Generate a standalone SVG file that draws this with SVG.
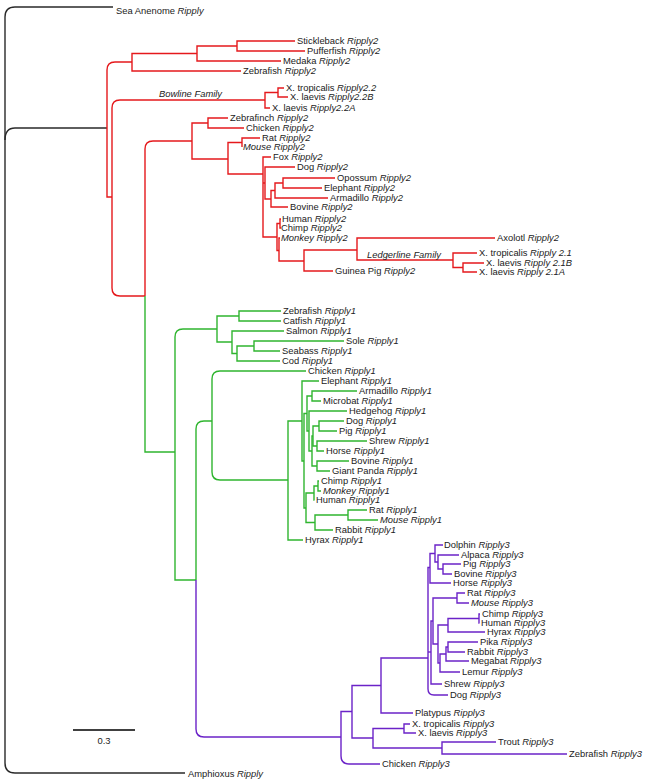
<svg xmlns="http://www.w3.org/2000/svg" width="648" height="784" viewBox="0 0 648 784">
<style>
path{fill:none;stroke-width:1.4;stroke-linejoin:miter}
.k{stroke:#2a2a2a}
.r{stroke:#e5191c}
.g{stroke:#2fb52f}
.p{stroke:#6b23c8}
text{font-family:"Liberation Sans",Arial,sans-serif;font-size:9.4px;fill:#222}
.i{font-style:italic}
</style>
<rect width="648" height="784" fill="#fff"/>
<g id="connectors">
<path class="k" d="M113,7 H15 Q5,7 5,17 V763 Q5,773 15,773 H185"/>
<path class="k" d="M5,140 Q5,128 15,128 H107"/>
<path class="r" d="M132,62 H115 Q107,62 107,70 V197 H112"/>
<path class="r" d="M265,100 H120 Q112,100 112,108 V288 Q112,296 120,296 H145"/>
<path class="r" d="M197,53.5 H132 V71 H241"/>
<path class="r" d="M237,46 H197 V61 H281"/>
<path class="r" d="M295,41 H237 V51 H305"/>
<path class="r" d="M278,92.5 H265 V108 H270"/>
<path class="r" d="M284,88 H278 V97 H288"/>
<path class="r" d="M145,296 V149 Q145,141 153,141 H192"/>
<path class="g" d="M145,296 V452 H175"/>
<path class="r" d="M208,123 H192 V159 H228"/>
<path class="r" d="M228,118 H208 V128 H244"/>
<path class="r" d="M242,142.5 H228 V174 H263"/>
<path class="r" d="M260,138 H242 V147"/>
<path class="r" d="M271,157 H263 V237 H277"/>
<path class="r" d="M263,183 H265"/>
<path class="r" d="M295,167 H265 V199 H271"/>
<path class="r" d="M275,190.5 H271 V207 H288"/>
<path class="r" d="M283,183 H275 V198 H328"/>
<path class="r" d="M335,178 H283 V188 H322"/>
<path class="r" d="M280,223.5 H277 V250.5 H279"/>
<path class="r" d="M280,238 H279 V261 H304"/>
<path class="r" d="M281,219 H280 V228 H281"/>
<path class="r" d="M357,250 H304 V271 H333"/>
<path class="r" d="M495,238 H357 V260 H453"/>
<path class="r" d="M477,253 H453 V267.5 H463"/>
<path class="r" d="M484,263 H463 V272 H477"/>
<path class="g" d="M217,329 H183 Q175,329 175,337 V580 H196"/>
<path class="g" d="M239,316 H217 V342 H232"/>
<path class="g" d="M281,311 H239 V321 H281"/>
<path class="g" d="M284,331 H232 V353.5 H237"/>
<path class="g" d="M254,346 H237 V361 H280"/>
<path class="g" d="M344,341 H254 V351 H280"/>
<path class="g" d="M196,580 V429 Q196,421 204,421 H212"/>
<path class="p" d="M196,580 V729 Q196,737 204,737 H341"/>
<path class="g" d="M306,371 H220 Q212,371 212,379 V472 Q212,480 220,480 H288"/>
<path class="g" d="M302,421 H288 V540 H303"/>
<path class="g" d="M319,381 H302 V461 H304"/>
<path class="g" d="M307,413.5 H304 V508 H306"/>
<path class="g" d="M312,396 H307 V431 H309"/>
<path class="g" d="M357,391 H312 V401 H321"/>
<path class="g" d="M347,411 H309 V451 H312"/>
<path class="g" d="M313,436 H312 V466 H317"/>
<path class="g" d="M319,426 H313 V446 H317"/>
<path class="g" d="M344,421 H319 V431 H337"/>
<path class="g" d="M367,441 H317 V451 H324"/>
<path class="g" d="M349,461 H317 V471 H330"/>
<path class="g" d="M314,493 H306 V522.5 H315"/>
<path class="g" d="M318,486 H314 V500 H314.5"/>
<path class="g" d="M319,481 H318 V491 H321"/>
<path class="g" d="M348,515 H315 V530 H333"/>
<path class="g" d="M367,510 H348 V520 H378"/>
<path class="p" d="M352,711.5 H341 V756 Q341,764 349,764 H380"/>
<path class="p" d="M381,685.5 H352 V738 H373"/>
<path class="p" d="M428,658 H381 V713 H413"/>
<path class="p" d="M404,728.5 H373 V748 H442"/>
<path class="p" d="M410,724 H404 V733 H416"/>
<path class="p" d="M496,742 H442 V754 H567"/>
<path class="p" d="M430,567.5 H428 V689 Q428,695 434,695 H448"/>
<path class="p" d="M435,553.5 H430 V583 H451"/>
<path class="p" d="M428,652 H431"/>
<path class="p" d="M433,621 H431 V684 H442"/>
<path class="p" d="M457,598 H433 V644 H438"/>
<path class="p" d="M448,625 H438 V663 H440"/>
<path class="p" d="M443,545 H435 V562 H438"/>
<path class="p" d="M459,555 H438 V569 H443"/>
<path class="p" d="M461,564 H443 V574 H452"/>
<path class="p" d="M465,593 H457 V603 H469"/>
<path class="p" d="M479,618.5 H448 V632 H485"/>
<path class="p" d="M480,614 H479 V623 H479.5"/>
<path class="p" d="M446,654 H440 V672 H460"/>
<path class="p" d="M448,647 H446 V661 H469"/>
<path class="p" d="M478,642 H448 V652 H465"/>
<path d="M73,730 H135" stroke="#000" stroke-width="2.5"/>
</g>
<g id="labels">
<g id="sea-anenome"><text x="116" y="13.5">Sea Anenome <tspan class="i">Ripply</tspan></text></g>
<g id="amphioxus"><text x="188" y="776.5">Amphioxus <tspan class="i">Ripply</tspan></text></g>
<g id="scale"><text x="104" y="743.5" text-anchor="middle">0.3</text></g>
<g id="bowline"><text x="159" y="96.5" class="i">Bowline Family</text></g>
<g id="ledgerline"><text x="367" y="257.5" class="i">Ledgerline Family</text></g>

<g id="stickleback-r2"><text x="297" y="44.3">Stickleback <tspan class="i">Ripply2</tspan></text></g>
<g id="pufferfish-r2"><text x="307" y="54.3">Pufferfish <tspan class="i">Ripply2</tspan></text></g>
<g id="medaka-r2"><text x="283" y="64.3">Medaka <tspan class="i">Ripply2</tspan></text></g>
<g id="zebrafish-r2"><text x="243" y="74.3">Zebrafish <tspan class="i">Ripply2</tspan></text></g>
<g id="xtrop-r22"><text x="286" y="91.3">X. tropicalis <tspan class="i">Ripply2.2</tspan></text></g>
<g id="xlaev-r22b"><text x="290" y="100.3">X. laevis <tspan class="i">Ripply2.2B</tspan></text></g>
<g id="xlaev-r22a"><text x="272" y="111.3">X. laevis <tspan class="i">Ripply2.2A</tspan></text></g>
<g id="zebrafinch-r2"><text x="230" y="121.3">Zebrafinch <tspan class="i">Ripply2</tspan></text></g>
<g id="chicken-r2"><text x="246" y="131.3">Chicken <tspan class="i">Ripply2</tspan></text></g>
<g id="rat-r2"><text x="262" y="141.3">Rat <tspan class="i">Ripply2</tspan></text></g>
<g id="mouse-r2"><text x="243" y="150.3" class="i">Mouse Ripply2</text></g>
<g id="fox-r2"><text x="273" y="160.3">Fox <tspan class="i">Ripply2</tspan></text></g>
<g id="dog-r2"><text x="297" y="170.3">Dog <tspan class="i">Ripply2</tspan></text></g>
<g id="opossum-r2"><text x="337" y="181.3">Opossum <tspan class="i">Ripply2</tspan></text></g>
<g id="elephant-r2"><text x="324" y="191.3">Elephant <tspan class="i">Ripply2</tspan></text></g>
<g id="armadillo-r2"><text x="330" y="201.3">Armadillo <tspan class="i">Ripply2</tspan></text></g>
<g id="bovine-r2"><text x="290" y="210.3">Bovine <tspan class="i">Ripply2</tspan></text></g>
<g id="human-r2"><text x="282" y="222.3">Human <tspan class="i">Ripply2</tspan></text></g>
<g id="chimp-r2"><text x="281" y="231.3">Chimp <tspan class="i">Ripply2</tspan></text></g>
<g id="monkey-r2"><text x="281" y="241.3" class="i">Monkey Ripply2</text></g>
<g id="axolotl-r2"><text x="497" y="241.3">Axolotl <tspan class="i">Ripply2</tspan></text></g>
<g id="xtrop-r21"><text x="479" y="256.3">X. tropicalis <tspan class="i">Ripply 2.1</tspan></text></g>
<g id="xlaev-r21b"><text x="486" y="266.3">X. laevis <tspan class="i">Ripply 2.1B</tspan></text></g>
<g id="xlaev-r21a"><text x="479" y="275.3">X. laevis <tspan class="i">Ripply 2.1A</tspan></text></g>
<g id="guineapig-r2"><text x="335" y="274.3">Guinea Pig <tspan class="i">Ripply2</tspan></text></g>

<g id="zebrafish-r1"><text x="283" y="314.3">Zebrafish <tspan class="i">Ripply1</tspan></text></g>
<g id="catfish-r1"><text x="283" y="324.3">Catfish <tspan class="i">Ripply1</tspan></text></g>
<g id="salmon-r1"><text x="286" y="334.3">Salmon <tspan class="i">Ripply1</tspan></text></g>
<g id="sole-r1"><text x="346" y="344.3">Sole <tspan class="i">Ripply1</tspan></text></g>
<g id="seabass-r1"><text x="282" y="354.3">Seabass <tspan class="i">Ripply1</tspan></text></g>
<g id="cod-r1"><text x="282" y="364.3">Cod <tspan class="i">Ripply1</tspan></text></g>
<g id="chicken-r1"><text x="308" y="374.3">Chicken <tspan class="i">Ripply1</tspan></text></g>
<g id="elephant-r1"><text x="321" y="384.3">Elephant <tspan class="i">Ripply1</tspan></text></g>
<g id="armadillo-r1"><text x="359" y="394.3">Armadillo <tspan class="i">Ripply1</tspan></text></g>
<g id="microbat-r1"><text x="323" y="404.3">Microbat <tspan class="i">Ripply1</tspan></text></g>
<g id="hedgehog-r1"><text x="349" y="414.3">Hedgehog <tspan class="i">Ripply1</tspan></text></g>
<g id="dog-r1"><text x="346" y="424.3">Dog <tspan class="i">Ripply1</tspan></text></g>
<g id="pig-r1"><text x="339" y="434.3">Pig <tspan class="i">Ripply1</tspan></text></g>
<g id="shrew-r1"><text x="369" y="444.3">Shrew <tspan class="i">Ripply1</tspan></text></g>
<g id="horse-r1"><text x="326" y="454.3">Horse <tspan class="i">Ripply1</tspan></text></g>
<g id="bovine-r1"><text x="351" y="464.3">Bovine <tspan class="i">Ripply1</tspan></text></g>
<g id="panda-r1"><text x="332" y="474.3">Giant Panda <tspan class="i">Ripply1</tspan></text></g>
<g id="chimp-r1"><text x="321" y="484.3">Chimp <tspan class="i">Ripply1</tspan></text></g>
<g id="monkey-r1"><text x="323" y="494.3" class="i">Monkey Ripply1</text></g>
<g id="human-r1"><text x="316" y="503.3">Human <tspan class="i">Ripply1</tspan></text></g>
<g id="rat-r1"><text x="369" y="513.3">Rat <tspan class="i">Ripply1</tspan></text></g>
<g id="mouse-r1"><text x="380" y="523.3" class="i">Mouse Ripply1</text></g>
<g id="rabbit-r1"><text x="335" y="533.3">Rabbit <tspan class="i">Ripply1</tspan></text></g>
<g id="hyrax-r1"><text x="305" y="543.3">Hyrax <tspan class="i">Ripply1</tspan></text></g>

<g id="dolphin-r3"><text x="444" y="548.3">Dolphin <tspan class="i">Ripply3</tspan></text></g>
<g id="alpaca-r3"><text x="461" y="558.3">Alpaca <tspan class="i">Ripply3</tspan></text></g>
<g id="pig-r3"><text x="463" y="567.3">Pig <tspan class="i">Ripply3</tspan></text></g>
<g id="bovine-r3"><text x="454" y="577.3">Bovine <tspan class="i">Ripply3</tspan></text></g>
<g id="horse-r3"><text x="453" y="586.3">Horse <tspan class="i">Ripply3</tspan></text></g>
<g id="rat-r3"><text x="467" y="596.3">Rat <tspan class="i">Ripply3</tspan></text></g>
<g id="mouse-r3"><text x="471" y="606.3" class="i">Mouse Ripply3</text></g>
<g id="chimp-r3"><text x="482" y="617.3">Chimp <tspan class="i">Ripply3</tspan></text></g>
<g id="human-r3"><text x="481" y="626.3">Human <tspan class="i">Ripply3</tspan></text></g>
<g id="hyrax-r3"><text x="487" y="635.3">Hyrax <tspan class="i">Ripply3</tspan></text></g>
<g id="pika-r3"><text x="480" y="645.3">Pika <tspan class="i">Ripply3</tspan></text></g>
<g id="rabbit-r3"><text x="467" y="655.3">Rabbit <tspan class="i">Ripply3</tspan></text></g>
<g id="megabat-r3"><text x="471" y="664.3">Megabat <tspan class="i">Ripply3</tspan></text></g>
<g id="lemur-r3"><text x="462" y="675.3">Lemur <tspan class="i">Ripply3</tspan></text></g>
<g id="shrew-r3"><text x="444" y="687.3">Shrew <tspan class="i">Ripply3</tspan></text></g>
<g id="dog-r3"><text x="450" y="698.3">Dog <tspan class="i">Ripply3</tspan></text></g>
<g id="platypus-r3"><text x="415" y="716.3">Platypus <tspan class="i">Ripply3</tspan></text></g>
<g id="xtrop-r3"><text x="412" y="727.3">X. tropicalis <tspan class="i">Ripply3</tspan></text></g>
<g id="xlaev-r3"><text x="418" y="736.3">X. laevis <tspan class="i">Ripply3</tspan></text></g>
<g id="trout-r3"><text x="498" y="745.3">Trout <tspan class="i">Ripply3</tspan></text></g>
<g id="zebrafish-r3"><text x="569" y="757.3">Zebrafish <tspan class="i">Ripply3</tspan></text></g>
<g id="chicken-r3"><text x="382" y="767.3">Chicken <tspan class="i">Ripply3</tspan></text></g>
</g>
</svg>
